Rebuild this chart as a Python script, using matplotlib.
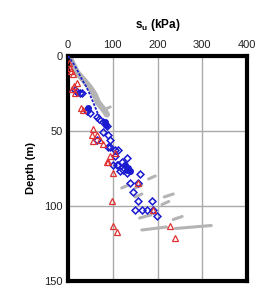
import matplotlib
matplotlib.use("Agg")
import matplotlib.pyplot as plt
import numpy as np

plt.rcParams['font.family'] = ['Liberation Sans', 'DejaVu Sans']
plt.rcParams['mathtext.fontset'] = 'custom'
plt.rcParams['mathtext.bf'] = 'Liberation Sans:bold'
plt.rcParams['mathtext.rm'] = 'Liberation Sans'

# gray band (continuous profile)
gray_su = [0, 5, 10, 20, 35, 49, 60, 67, 75, 83, 87]
gray_depth = [0, 2, 5, 11, 16, 21, 26, 31, 34, 37, 39]
# gray short dashes at depth
dash_su0 = [120, 150, 180, 150, 215, 210, 160, 235, 165, 240]
dash_su1 = [135, 165, 195, 165, 235, 225, 185, 255, 220, 320]
dash_depth = [87, 87, 81, 93, 93, 98, 107, 108, 115, 114]

# blue dotted profile near surface
blue_line_su = [0, 5, 12, 20, 30, 40, 48, 55, 62, 66, 72]
blue_line_depth = [0, 2, 5, 9, 15, 20, 25, 30, 35, 38, 41]

# blue open diamonds
dia_su = [16, 20, 27, 32, 43, 49, 65, 70, 78, 87, 78, 89, 94, 90, 105, 112, 132, 105, 121, 109,
          65, 94, 101, 112, 123, 116, 132, 161, 139, 157, 145, 157, 188, 150, 165, 176, 190, 199]
dia_depth = [23, 24, 25, 25, 37, 38, 41, 42, 44, 47, 51, 53, 56, 61, 63, 63, 68, 67, 71, 73,
             56, 61, 73, 73, 76, 77, 78, 79, 85, 85, 91, 97, 97, 103, 103, 103, 103, 107]

# blue filled circles
dot_su = [45, 83, 85, 128, 134, 139, 131]
dot_depth = [35, 44, 46, 73, 75, 77, 76]

# red open triangles
tri_su = [2, 4, 6, 12, 13, 8, 20, 15, 34, 30, 57, 54, 64, 72, 57, 79, 94, 90,
          87, 101, 105, 157, 98, 101, 109, 190, 228, 239]
tri_depth = [5, 8, 10, 12, 20, 22, 18, 25, 36, 35, 49, 53, 53, 56, 57, 59, 67, 71,
             71, 78, 65, 85, 97, 113, 117, 103, 113, 121]

fig = plt.figure(figsize=(2.73, 2.90), dpi=100)
ax = fig.add_axes([0.249, 0.031, 0.656, 0.776])

ax.plot(gray_su, gray_depth, color='#b4b4b4', lw=4.5, solid_capstyle='round', zorder=2)
ax.plot([94, 80], [34, 36], color='#b4b4b4', lw=2, zorder=2)
for s0, s1, d in zip(dash_su0, dash_su1, dash_depth):
    ax.plot([s0, s1], [d + 1, d - 1], color='#b4b4b4', lw=2.2, solid_capstyle='round', zorder=2)

ax.plot(blue_line_su, blue_line_depth, color='#2020d0', lw=1.3, ls=(0, (1.5, 0.8)), zorder=3)
ax.plot(dot_su, dot_depth, 'o', color='#1a1ad0', ms=4, zorder=4)
ax.plot(dia_su, dia_depth, 'D', mfc='none', mec='#1a1ad0', mew=1.1, ms=3.5, zorder=4)
ax.plot(tri_su, tri_depth, '^', mfc='none', mec='#e03030', mew=0.9, ms=4.5, zorder=4)

ax.set_xlim(0, 400)
ax.set_ylim(150, 0)
ax.set_xticks([0, 100, 200, 300, 400])
ax.set_yticks([0, 50, 100, 150])
ax.xaxis.tick_top()
ax.xaxis.set_label_position('top')
ax.tick_params(length=0, labelsize=8, pad=4, colors='#222222')
ax.grid(True, color='#aaaaaa', lw=1)
ax.set_axisbelow(True)
for sp in ax.spines.values():
    sp.set_linewidth(3)
ax.set_xlabel(r'$\mathbf{s_u}$ (kPa)', fontsize=8.5, fontweight='bold', labelpad=9)
ax.set_ylabel('Depth (m)', fontsize=8, fontweight='bold', labelpad=6)

fig.savefig('out.png', dpi=100)
